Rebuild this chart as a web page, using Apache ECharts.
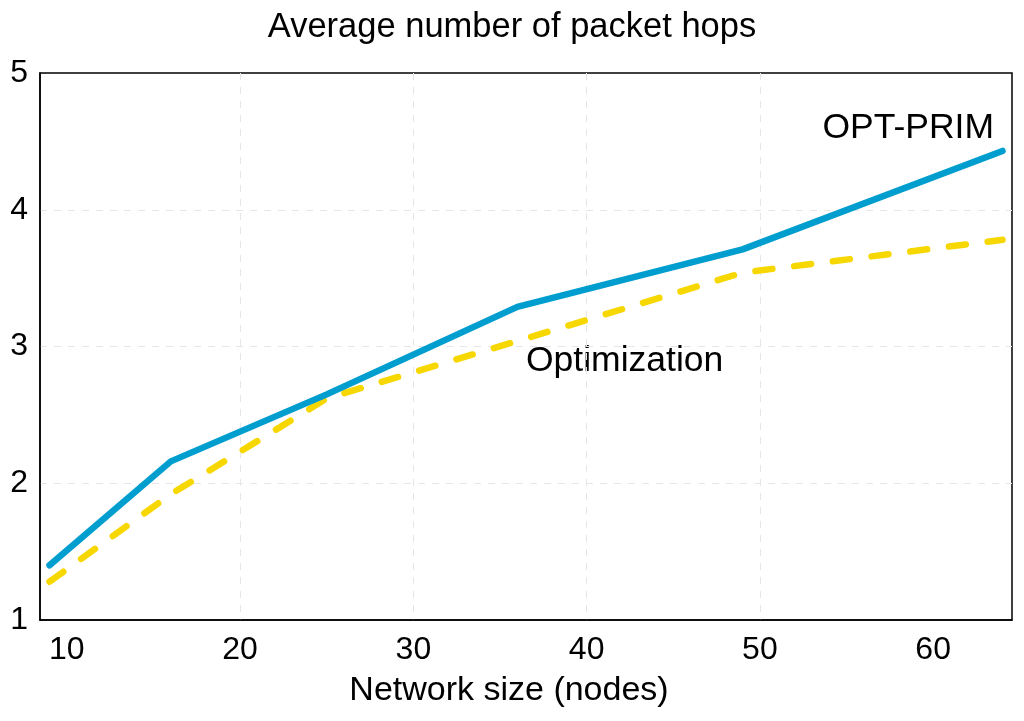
<!DOCTYPE html>
<html><head><meta charset="utf-8">
<script src="https://cdn.jsdelivr.net/npm/echarts@6/dist/echarts.min.js"></script>
<style>html,body{margin:0;padding:0;background:#fff}#c{width:1024px;height:721px}</style>
</head><body><div id="c"></div>
<script>
const networkSizes = [9, 16, 25, 36, 49, 64];
const optPrim = [1.40, 2.16, 2.65, 3.29, 3.71, 4.43];
const optimization = [1.28, 1.92, 2.62, 3.04, 3.54, 3.78];
const xTicks = [10, 20, 30, 40, 50, 60];
const yTicks = [1, 2, 3, 4, 5];
const FONT = 'Liberation Sans';

const chart = echarts.init(document.getElementById('c'), null, {renderer: 'canvas'});
chart.setOption({
  animation: false,
  textStyle: {fontFamily: FONT},
  title: {text: 'Average number of packet hops', left: 'center', top: 5,
    textStyle: {fontFamily: FONT, fontSize: 34.5, fontWeight: 'normal', color: '#000'}},
  grid: {left: 40, right: 12, top: 73, bottom: 101, show: true, borderColor: '#000', borderWidth: 1.5, containLabel: false},
  xAxis: {type: 'value', min: 8.45, max: 64.55,
    name: 'Network size (nodes)', nameLocation: 'middle', nameGap: 54,
    nameTextStyle: {fontFamily: FONT, fontSize: 34, color: '#000', padding: [0, 34, 0, 0]},
    axisLine: {show: true, lineStyle: {color: '#000', width: 1.5}},
    axisTick: {show: false, customValues: xTicks},
    axisLabel: {customValues: xTicks, fontSize: 32, color: '#000', margin: 14, fontFamily: FONT},
    splitLine: {show: true, showMinLine: false, showMaxLine: false, lineStyle: {color: '#e6e6e6', type: [7, 7], width: 1}}},
  yAxis: {type: 'value', min: 1, max: 5, interval: 1,
    axisLine: {show: true, lineStyle: {color: '#000', width: 1.5}},
    axisTick: {show: false},
    axisLabel: {fontSize: 32, color: '#000', margin: 12, fontFamily: FONT,
      formatter: v => yTicks.includes(v) ? String(v) : ''},
    splitLine: {show: true, showMinLine: false, showMaxLine: false, lineStyle: {color: '#e6e6e6', type: [7, 7], width: 1}}},
  series: [
    {name: 'OPT-PRIM', type: 'line', data: networkSizes.map((x, i) => [x, optPrim[i]]),
      showSymbol: false, symbol: 'none', lineStyle: {color: '#009ecf', width: 6.5, cap: 'round', join: 'round'}, z: 3},
    {name: 'Optimization', type: 'line', data: networkSizes.map((x, i) => [x, optimization[i]]),
      showSymbol: false, symbol: 'none', lineStyle: {color: '#f7d700', width: 6.5, type: [17, 22], cap: 'round', join: 'round'}, z: 2}
  ],
  graphic: [
    {type: 'text', right: 30, top: 110, style: {text: 'OPT-PRIM', font: '35.5px "' + FONT + '"', fill: '#000'}},
    {type: 'text', left: 526, top: 343, style: {text: 'Optimization', font: '35.5px "' + FONT + '"', fill: '#000'}}
  ]
});
</script></body></html>
